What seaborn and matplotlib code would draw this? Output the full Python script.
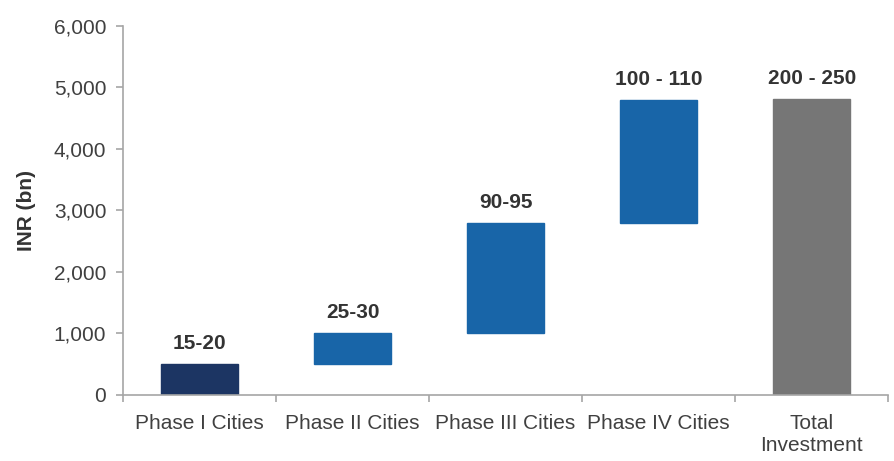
import matplotlib
matplotlib.use("Agg")
import matplotlib.pyplot as plt
import seaborn as sns
import pandas as pd

categories = ["Phase I Cities", "Phase II Cities", "Phase III Cities", "Phase IV Cities", "Total\nInvestment"]
lows = [0, 500, 1000, 2800, 0]
highs = [500, 1000, 2800, 4800, 4810]
value_labels = ["15-20", "25-30", "90-95", "100 - 110", "200 - 250"]
colors = ["#1c3563", "#1865a8", "#1865a8", "#1865a8", "#767676"]
yticks = [0, 1000, 2000, 3000, 4000, 5000, 6000]

sns.set_theme(style="white")
plt.rcParams["font.family"] = ["Liberation Sans", "DejaVu Sans"]

df = pd.DataFrame({"cat": categories, "low": lows, "high": highs})
df["height"] = df["high"] - df["low"]

fig = plt.figure(figsize=(8.95, 4.61), dpi=100)
ax = fig.add_axes([0.1374, 0.1432, 0.855, 0.8004])

sns.barplot(data=df, x="cat", y="height", color=colors[1],
            bottom=df["low"].values, width=0.5, ax=ax, saturation=1)
for patch, c in zip(ax.patches, colors):
    patch.set_facecolor(c)
    patch.set_edgecolor(c)

for i, (h, lab) in enumerate(zip(highs, value_labels)):
    ax.annotate(lab, (i, h), xytext=(0, 8), textcoords="offset points",
                ha="center", va="bottom", fontsize=15, fontweight="bold", color="#333333")

ax.set_ylim(0, 6000)
ax.set_xlim(-0.5, len(categories) - 0.5)
ax.set_yticks(yticks)
ax.set_yticklabels([f"{v:,}" for v in yticks])
ax.set_xlabel("")
ax.set_ylabel("INR (bn)", fontsize=15, fontweight="bold", color="#333333", labelpad=13)

for s in ["top", "right"]:
    ax.spines[s].set_visible(False)
for s in ["left", "bottom"]:
    ax.spines[s].set_color("#a6a6a6")
    ax.spines[s].set_linewidth(1.2)

ax.tick_params(axis="y", which="both", left=True, length=5, width=1.2, color="#a6a6a6",
               labelsize=15, labelcolor="#404040", pad=7)
ax.tick_params(axis="x", which="major", bottom=False, labelsize=15, labelcolor="#404040", pad=8)
ax.set_xticks([i - 0.5 for i in range(len(categories) + 1)], minor=True)
ax.tick_params(axis="x", which="minor", bottom=True, length=5, width=1.2, color="#a6a6a6")
ax.set_xticks(range(len(categories)))
ax.set_xticklabels(categories, linespacing=1.15)

fig.savefig("out.png", dpi=100)
